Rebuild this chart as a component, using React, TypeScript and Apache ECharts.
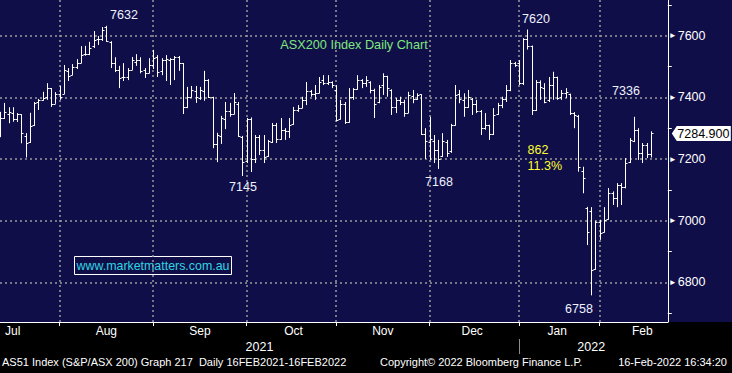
import React, { useEffect, useRef } from "react";
import * as echarts from "echarts";

// [date, open, close, low, high]
const bars: [string, number, number, number, number][] = [
  ["2021-07-12", 7300, 7333, 7271, 7353],
  ["2021-07-13", 7333, 7352, 7330, 7382],
  ["2021-07-14", 7345, 7352, 7316, 7368],
  ["2021-07-15", 7350, 7330, 7321, 7368],
  ["2021-07-16", 7330, 7345, 7320, 7349],
  ["2021-07-19", 7345, 7284, 7251, 7345],
  ["2021-07-20", 7275, 7252, 7205, 7284],
  ["2021-07-21", 7255, 7307, 7252, 7350],
  ["2021-07-22", 7310, 7383, 7307, 7385],
  ["2021-07-23", 7385, 7390, 7359, 7395],
  ["2021-07-26", 7392, 7398, 7389, 7418],
  ["2021-07-27", 7400, 7430, 7392, 7446],
  ["2021-07-28", 7430, 7380, 7369, 7430],
  ["2021-07-29", 7380, 7410, 7379, 7417],
  ["2021-07-30", 7410, 7400, 7392, 7437],
  ["2021-08-02", 7412, 7490, 7411, 7505],
  ["2021-08-03", 7485, 7470, 7453, 7495],
  ["2021-08-04", 7472, 7499, 7472, 7508],
  ["2021-08-05", 7500, 7512, 7492, 7524],
  ["2021-08-06", 7512, 7537, 7511, 7566],
  ["2021-08-09", 7540, 7540, 7535, 7567],
  ["2021-08-10", 7542, 7560, 7537, 7580],
  ["2021-08-11", 7565, 7586, 7560, 7615],
  ["2021-08-12", 7590, 7590, 7570, 7599],
  ["2021-08-13", 7590, 7620, 7583, 7628],
  ["2021-08-16", 7628, 7582, 7580, 7632],
  ["2021-08-17", 7580, 7511, 7495, 7582],
  ["2021-08-18", 7510, 7490, 7482, 7530],
  ["2021-08-19", 7490, 7462, 7430, 7502],
  ["2021-08-20", 7465, 7465, 7453, 7511],
  ["2021-08-23", 7465, 7489, 7456, 7495],
  ["2021-08-24", 7490, 7520, 7489, 7531],
  ["2021-08-25", 7515, 7520, 7502, 7540],
  ["2021-08-26", 7520, 7485, 7478, 7530],
  ["2021-08-27", 7490, 7480, 7463, 7495],
  ["2021-08-30", 7480, 7505, 7478, 7527],
  ["2021-08-31", 7505, 7527, 7492, 7554],
  ["2021-09-01", 7530, 7482, 7466, 7537],
  ["2021-09-02", 7485, 7521, 7472, 7527],
  ["2021-09-03", 7520, 7525, 7453, 7537],
  ["2021-09-06", 7520, 7525, 7440, 7527],
  ["2021-09-07", 7525, 7530, 7456, 7534],
  ["2021-09-08", 7530, 7511, 7486, 7534],
  ["2021-09-09", 7510, 7369, 7346, 7511],
  ["2021-09-10", 7370, 7402, 7365, 7434],
  ["2021-09-13", 7400, 7424, 7400, 7437],
  ["2021-09-14", 7420, 7400, 7382, 7437],
  ["2021-09-15", 7398, 7425, 7392, 7434],
  ["2021-09-16", 7420, 7456, 7389, 7486],
  ["2021-09-17", 7455, 7402, 7398, 7459],
  ["2021-09-20", 7400, 7249, 7235, 7402],
  ["2021-09-21", 7250, 7278, 7190, 7285],
  ["2021-09-22", 7275, 7332, 7249, 7340],
  ["2021-09-23", 7330, 7355, 7297, 7385],
  ["2021-09-24", 7355, 7345, 7337, 7382],
  ["2021-09-27", 7345, 7385, 7345, 7414],
  ["2021-09-28", 7380, 7275, 7272, 7385],
  ["2021-09-29", 7272, 7190, 7145, 7275],
  ["2021-09-30", 7195, 7330, 7187, 7333],
  ["2021-10-01", 7330, 7200, 7158, 7335],
  ["2021-10-04", 7200, 7270, 7187, 7278],
  ["2021-10-05", 7270, 7230, 7213, 7278],
  ["2021-10-06", 7230, 7207, 7187, 7278],
  ["2021-10-07", 7210, 7257, 7207, 7262],
  ["2021-10-08", 7255, 7310, 7252, 7317],
  ["2021-10-11", 7310, 7265, 7252, 7317],
  ["2021-10-12", 7265, 7294, 7262, 7333],
  ["2021-10-13", 7295, 7290, 7262, 7300],
  ["2021-10-14", 7290, 7311, 7268, 7333],
  ["2021-10-15", 7315, 7359, 7311, 7369],
  ["2021-10-18", 7360, 7365, 7353, 7375],
  ["2021-10-19", 7365, 7392, 7365, 7402],
  ["2021-10-20", 7392, 7420, 7375, 7450],
  ["2021-10-21", 7420, 7410, 7402, 7424],
  ["2021-10-22", 7410, 7415, 7392, 7440],
  ["2021-10-25", 7415, 7451, 7413, 7466],
  ["2021-10-26", 7455, 7445, 7440, 7472],
  ["2021-10-27", 7445, 7450, 7440, 7472],
  ["2021-10-28", 7450, 7440, 7430, 7452],
  ["2021-10-29", 7425, 7325, 7322, 7440],
  ["2021-11-01", 7330, 7380, 7328, 7392],
  ["2021-11-02", 7380, 7320, 7314, 7385],
  ["2021-11-03", 7320, 7400, 7318, 7430],
  ["2021-11-04", 7400, 7427, 7392, 7430],
  ["2021-11-05", 7428, 7455, 7425, 7472],
  ["2021-11-08", 7455, 7445, 7430, 7459],
  ["2021-11-09", 7445, 7455, 7434, 7469],
  ["2021-11-10", 7450, 7425, 7413, 7452],
  ["2021-11-11", 7425, 7380, 7333, 7428],
  ["2021-11-12", 7385, 7435, 7381, 7440],
  ["2021-11-15", 7440, 7469, 7408, 7478],
  ["2021-11-16", 7468, 7430, 7402, 7470],
  ["2021-11-17", 7425, 7370, 7343, 7426],
  ["2021-11-18", 7370, 7390, 7349, 7398],
  ["2021-11-19", 7390, 7385, 7375, 7402],
  ["2021-11-22", 7385, 7350, 7337, 7392],
  ["2021-11-23", 7350, 7408, 7349, 7418],
  ["2021-11-24", 7405, 7395, 7381, 7424],
  ["2021-11-25", 7395, 7408, 7392, 7413],
  ["2021-11-26", 7410, 7280, 7278, 7410],
  ["2021-11-29", 7280, 7257, 7200, 7300],
  ["2021-11-30", 7255, 7265, 7197, 7337],
  ["2021-12-01", 7260, 7230, 7187, 7278],
  ["2021-12-02", 7230, 7200, 7168, 7262],
  ["2021-12-03", 7210, 7257, 7207, 7284],
  ["2021-12-06", 7255, 7220, 7207, 7262],
  ["2021-12-07", 7225, 7311, 7220, 7314],
  ["2021-12-08", 7310, 7408, 7308, 7440],
  ["2021-12-09", 7410, 7395, 7381, 7424],
  ["2021-12-10", 7390, 7369, 7337, 7413],
  ["2021-12-13", 7370, 7400, 7366, 7424],
  ["2021-12-14", 7395, 7380, 7343, 7398],
  ["2021-12-15", 7380, 7355, 7349, 7392],
  ["2021-12-16", 7355, 7300, 7278, 7359],
  ["2021-12-17", 7300, 7310, 7295, 7349],
  ["2021-12-20", 7310, 7280, 7262, 7311],
  ["2021-12-21", 7280, 7343, 7278, 7365],
  ["2021-12-22", 7345, 7375, 7343, 7382],
  ["2021-12-23", 7375, 7395, 7365, 7402],
  ["2021-12-24", 7395, 7424, 7385, 7440],
  ["2021-12-29", 7425, 7511, 7420, 7521],
  ["2021-12-30", 7510, 7505, 7499, 7515],
  ["2021-12-31", 7510, 7445, 7440, 7521],
  ["2022-01-04", 7445, 7588, 7440, 7592],
  ["2022-01-05", 7588, 7565, 7555, 7620],
  ["2022-01-06", 7565, 7359, 7343, 7568],
  ["2022-01-07", 7360, 7451, 7356, 7456],
  ["2022-01-10", 7450, 7435, 7392, 7455],
  ["2022-01-11", 7430, 7386, 7381, 7446],
  ["2022-01-12", 7390, 7440, 7385, 7466],
  ["2022-01-13", 7440, 7467, 7392, 7483],
  ["2022-01-14", 7465, 7398, 7392, 7467],
  ["2022-01-17", 7400, 7415, 7392, 7424],
  ["2022-01-18", 7415, 7418, 7398, 7430],
  ["2022-01-19", 7410, 7350, 7343, 7412],
  ["2022-01-20", 7349, 7343, 7300, 7352],
  ["2022-01-21", 7340, 7175, 7159, 7343],
  ["2022-01-24", 7160, 7138, 7089, 7175],
  ["2022-01-25", 7040, 6965, 6921, 7045],
  ["2022-01-27", 7030, 6841, 6758, 7044],
  ["2022-01-28", 6845, 6997, 6841, 7000],
  ["2022-01-31", 6995, 6960, 6938, 7003],
  ["2022-02-01", 6965, 7003, 6962, 7044],
  ["2022-02-02", 7005, 7090, 7003, 7106],
  ["2022-02-03", 7090, 7075, 7051, 7095],
  ["2022-02-04", 7075, 7116, 7044, 7122],
  ["2022-02-07", 7115, 7110, 7051, 7122],
  ["2022-02-08", 7110, 7186, 7105, 7203],
  ["2022-02-09", 7190, 7262, 7187, 7268],
  ["2022-02-10", 7260, 7294, 7255, 7337],
  ["2022-02-11", 7295, 7220, 7197, 7300],
  ["2022-02-14", 7220, 7246, 7187, 7252],
  ["2022-02-15", 7245, 7215, 7203, 7252],
  ["2022-02-16", 7215, 7284.9, 7205, 7290],
];

// empty trading slots to the right of the last bar
const padDates = ["2022-02-17", "2022-02-18", "2022-02-21", "2022-02-22"];

// month separators (Bloomberg draws them on the last bar of the previous month)
const monthLineDates = ["2021-07-30", "2021-08-31", "2021-09-30", "2021-10-29", "2021-11-30", "2021-12-31", "2022-01-31"];
const monthLabels: [string, string][] = [
  ["2021-07-15", "Jul"],
  ["2021-08-16", "Aug"],
  ["2021-09-15", "Sep"],
  ["2021-10-15", "Oct"],
  ["2021-11-15", "Nov"],
  ["2021-12-14", "Dec"],
  ["2022-01-14", "Jan"],
  ["2022-02-14", "Feb"],
];
const yearLabels: [string, string][] = [
  ["2021-10-05", "2021"],
  ["2022-01-27", "2022"],
];
const yearSeparatorDate = "2021-12-31";

const yTicks = [6800, 7000, 7200, 7400, 7600];

const FONT = "'Liberation Sans', Arial, sans-serif";
const NAVY = "#100e48";

export default function App() {
  const ref = useRef<HTMLDivElement>(null);

  useEffect(() => {
    if (!ref.current) return;
    const chart = echarts.init(ref.current, null, { renderer: "svg" });

    const categories = bars.map((b) => b[0]).concat(padDates);
    const idxOf = (d: string) => categories.indexOf(d);
    const lineIdx = new Set(monthLineDates.map(idxOf));
    const labelMap = new Map(monthLabels.map(([d, t]) => [idxOf(d), t]));
    const yearMap = new Map(yearLabels.map(([d, t]) => [idxOf(d), t]));
    const sepIdx = idxOf(yearSeparatorDate);
    const seriesData = bars.map((b, i) => [i, b[1], b[2], b[3], b[4]]);
    const lastIdx = bars.length - 1;
    const lastClose = bars[lastIdx][2];

    const gridColor = "#9a9a9a";

    const option: any = {
      animation: false,
      backgroundColor: "transparent",
      textStyle: { fontFamily: FONT },
      grid: { left: -0.4, right: 64.2, top: 0, bottom: 51, containLabel: false },
      xAxis: [
        {
          type: "category",
          data: categories,
          boundaryGap: false,
          axisLine: { show: true, lineStyle: { color: "#fff", width: 1 } },
          axisTick: {
            show: true,
            length: 4,
            interval: (i: number) => lineIdx.has(i),
            lineStyle: { color: "#fff" },
          },
          splitLine: {
            show: true,
            interval: (i: number) => lineIdx.has(i),
            lineStyle: { color: gridColor, type: [2, 3], width: 1.5 },
          },
          axisLabel: {
            show: true,
            interval: (i: number) => labelMap.has(i),
            formatter: (_v: string, i: number) => labelMap.get(i) || "",
            color: "#fff",
            fontSize: 12,
            fontFamily: FONT,
            margin: 3,
          },
        },
        {
          type: "category",
          data: categories,
          boundaryGap: false,
          position: "bottom",
          offset: 17,
          axisLine: { show: false },
          axisTick: {
            show: true,
            length: 15,
            interval: (i: number) => i === sepIdx,
            lineStyle: { color: "#8c8c8c" },
          },
          splitLine: { show: false },
          axisLabel: {
            show: true,
            interval: (i: number) => yearMap.has(i),
            formatter: (_v: string, i: number) => yearMap.get(i) || "",
            color: "#fff",
            fontSize: 12.5,
            fontFamily: FONT,
            margin: 1,
          },
        },
      ],
      yAxis: {
        type: "value",
        position: "right",
        min: 6671.6,
        max: 7715.7,
        splitNumber: 5,
        axisLine: { show: true, lineStyle: { color: "#fff", width: 1 } },
        axisTick: { show: false },
        minorTick: { show: true, splitNumber: 2, length: 4, lineStyle: { color: "#fff" } },
        splitLine: {
          show: true,
          showMinLine: false,
          showMaxLine: false,
          lineStyle: { color: gridColor, type: [2, 3], width: 1.5 },
        },
        axisLabel: {
          show: true,
          showMinLabel: false,
          showMaxLabel: false,
          margin: 1,
          color: "#fff",
          fontSize: 12.5,
          fontFamily: FONT,
          formatter: (v: number) => (yTicks.includes(v) ? `{t|►}${v}` : ""),
          rich: { t: { fontSize: 8, color: "#fff", padding: [0, 1, 0, 0] } },
        },
      },
      series: [
        {
          type: "custom",
          xAxisIndex: 0,
          clip: true,
          data: seriesData,
          encode: { x: 0, y: [1, 2, 3, 4] },
          renderItem: (_params: any, api: any) => {
            const idx = api.value(0);
            const po = api.coord([idx, api.value(1)]);
            const pc = api.coord([idx, api.value(2)]);
            const pl = api.coord([idx, api.value(3)]);
            const ph = api.coord([idx, api.value(4)]);
            const x = Math.round(po[0]) + 0.5;
            const yo = Math.round(po[1]) + 0.5;
            const yc = Math.round(pc[1]) + 0.5;
            const st = { stroke: "#fff", lineWidth: 1 };
            return {
              type: "group",
              children: [
                { type: "line", shape: { x1: x, y1: ph[1], x2: x, y2: pl[1] }, style: st },
                { type: "line", shape: { x1: x - 2, y1: yo, x2: x, y2: yo }, style: st },
                { type: "line", shape: { x1: x, y1: yc, x2: x + 2, y2: yc }, style: st },
              ],
            };
          },
          z: 3,
        },
        {
          // last-price tag on the right-hand axis
          type: "custom",
          xAxisIndex: 0,
          clip: false,
          silent: true,
          data: [[lastIdx, lastClose]],
          encode: { x: 0, y: 1 },
          renderItem: (params: any, api: any) => {
            const p = api.coord([api.value(0), api.value(1)]);
            const cs = params.coordSys;
            const x0 = cs.x + cs.width + 4;
            const y = Math.round(p[1]) + 0.5;
            return {
              type: "group",
              children: [
                {
                  type: "polygon",
                  shape: {
                    points: [
                      [x0, y],
                      [x0 + 5, y - 7.5],
                      [x0 + 59, y - 7.5],
                      [x0 + 59, y + 7.5],
                      [x0 + 5, y + 7.5],
                    ],
                  },
                  style: { fill: "#fff" },
                },
                {
                  type: "text",
                  x: x0 + 5.5,
                  y: y + 0.5,
                  style: {
                    text: api.value(1).toFixed(3),
                    fill: "#000",
                    fontSize: 12.5,
                    fontFamily: FONT,
                    align: "left",
                    verticalAlign: "middle",
                  },
                },
              ],
            };
          },
          z: 5,
        },
      ],
      graphic: [
        { type: "text", silent: true, x: 124, y: 15, style: { text: "7632", fill: "#eef3ff", fontSize: 12.5, fontFamily: FONT, align: "center", verticalAlign: "middle" } },
        { type: "text", silent: true, x: 354, y: 44.5, style: { text: "ASX200 Index Daily Chart", fill: "#7ee87e", fontSize: 12.7, fontFamily: FONT, align: "center", verticalAlign: "middle" } },
        { type: "text", silent: true, x: 243, y: 187, style: { text: "7145", fill: "#eef3ff", fontSize: 12.5, fontFamily: FONT, align: "center", verticalAlign: "middle" } },
        { type: "text", silent: true, x: 439, y: 181.5, style: { text: "7168", fill: "#eef3ff", fontSize: 12.5, fontFamily: FONT, align: "center", verticalAlign: "middle" } },
        { type: "text", silent: true, x: 536, y: 18.7, style: { text: "7620", fill: "#eef3ff", fontSize: 12.5, fontFamily: FONT, align: "center", verticalAlign: "middle" } },
        { type: "text", silent: true, x: 626, y: 91.3, style: { text: "7336", fill: "#eef3ff", fontSize: 12.5, fontFamily: FONT, align: "center", verticalAlign: "middle" } },
        { type: "text", silent: true, x: 527.5, y: 150.3, style: { text: "862", fill: "#ffff33", fontSize: 12.5, fontFamily: FONT, align: "left", verticalAlign: "middle" } },
        { type: "text", silent: true, x: 527.5, y: 166, style: { text: "11.3%", fill: "#ffff33", fontSize: 12.5, fontFamily: FONT, align: "left", verticalAlign: "middle" } },
        { type: "text", silent: true, x: 579, y: 309, style: { text: "6758", fill: "#eef3ff", fontSize: 12.5, fontFamily: FONT, align: "center", verticalAlign: "middle" } },
        { type: "rect", silent: true, shape: { x: 74.5, y: 256.5, width: 157, height: 18 }, style: { fill: NAVY, stroke: "#fff", lineWidth: 1 } },
        { type: "text", silent: true, x: 153, y: 265.7, style: { text: "www.marketmatters.com.au", fill: "#30d5e0", fontSize: 12.4, fontFamily: FONT, align: "center", verticalAlign: "middle" } },
        { type: "text", silent: true, x: 2, y: 362, style: { text: "AS51 Index (S&P/ASX 200) Graph 217  Daily 16FEB2021-16FEB2022", fill: "#fff", fontSize: 11, fontFamily: FONT, align: "left", verticalAlign: "middle" } },
        { type: "text", silent: true, x: 380, y: 362, style: { text: "Copyright© 2022 Bloomberg Finance L.P.", fill: "#fff", fontSize: 11, fontFamily: FONT, align: "left", verticalAlign: "middle" } },
        { type: "text", silent: true, x: 727, y: 362, style: { text: "16-Feb-2022 16:34:20", fill: "#fff", fontSize: 11, fontFamily: FONT, align: "right", verticalAlign: "middle" } },
      ],
    };

    chart.setOption(option);
    return () => chart.dispose();
  }, []);

  return (
    <div
      ref={ref}
      style={{
        position: "fixed",
        left: 0,
        top: 0,
        width: 732,
        height: 373,
        background: `linear-gradient(to bottom, ${NAVY} 0px, ${NAVY} 322px, #000 322px, #000 373px)`,
      }}
    />
  );
}
